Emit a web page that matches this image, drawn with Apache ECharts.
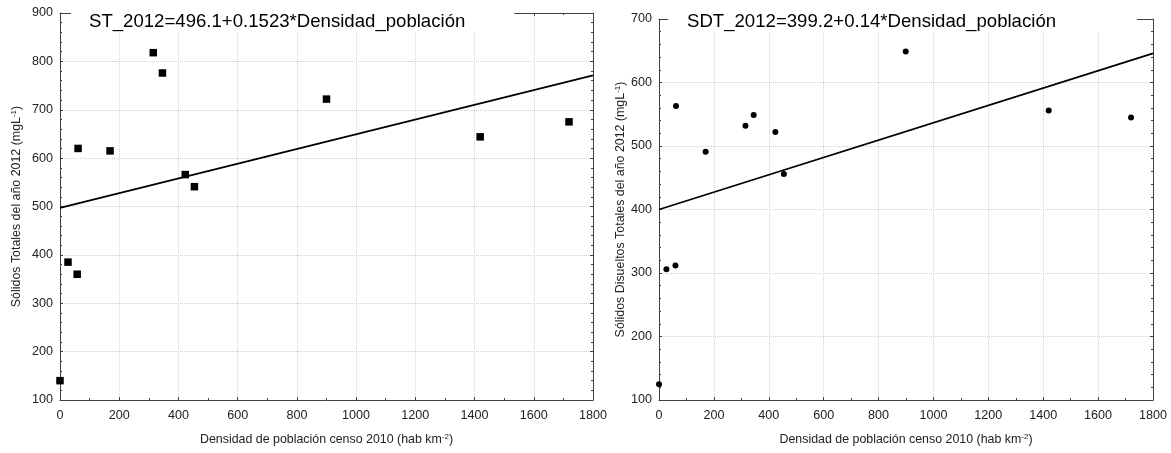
<!DOCTYPE html>
<html><head><meta charset="utf-8">
<script src="https://cdn.jsdelivr.net/npm/echarts@6/dist/echarts.min.js"></script>
<style>html,body{margin:0;padding:0;background:#fff}#c{width:1171px;height:453px}</style>
</head><body><div id="c"></div>
<script>
// Data
const densityST = [0, 27, 58, 61, 169, 315, 346, 423, 454, 900, 1419, 1719];
const valuesST  = [140, 385, 360, 620, 615, 818, 776, 566, 541, 722, 644, 675];
const densitySDT = [0, 27, 60, 62, 170, 315, 345, 424, 455, 899, 1420, 1720];
const valuesSDT  = [125, 306, 312, 563, 491, 532, 549, 522, 456, 649, 556, 545];
const fitST  = [[0, 497], [1800, 771]];
const fitSDT = [[0, 400], [1800, 646]];
const titleST  = 'ST_2012=496.1+0.1523*Densidad_población';
const titleSDT = 'SDT_2012=399.2+0.14*Densidad_población';
const xName = '{n|Densidad de población censo 2010 (hab km}{s|-2}{n|)}';
const yNameST  = '{n|Sólidos Totales del año 2012 (mgL}{s|-1}{n|)}';
const yNameSDT = '{n|Sólidos Disueltos Totales del año 2012 (mgL}{s|-1}{n|)}';

const FONT = "'Liberation Sans', Arial, sans-serif";
const pairs = (xs, ys) => xs.map((x, i) => [x, ys[i]]);
const rich = {
  n: {fontSize: 12.4, fontFamily: FONT, color: '#222'},
  s: {fontSize: 8, fontFamily: FONT, color: '#222', padding: [0, 0, 6, 0]}
};
const lineCol = '#404040';
const fmt = v => String(v);
function xAx(gi, main) {
  return {
    type: 'value', gridIndex: gi, min: 0, max: 1800, interval: 200,
    position: main ? 'bottom' : 'top',
    axisLine: {show: true, onZero: false, lineStyle: {color: lineCol, width: 1}},
    axisTick: {show: true, inside: true, length: 3, lineStyle: {color: lineCol}},
    minorTick: {show: true, splitNumber: 2, length: 2, lineStyle: {color: lineCol}},
    axisLabel: {show: main, margin: 9, fontSize: 12.6, fontFamily: FONT, color: '#222', formatter: fmt},
    splitLine: {show: main, lineStyle: {color: '#d2d2d2', type: [1, 1], width: 1}},
    name: main ? xName : '', nameLocation: 'middle', nameGap: 33,
    nameTextStyle: {rich: rich}
  };
}
function yAx(gi, main, min, max, name, gap) {
  return {
    type: 'value', gridIndex: gi, min: min, max: max, interval: 100,
    position: main ? 'left' : 'right',
    axisLine: {show: true, onZero: false, lineStyle: {color: lineCol, width: 1}},
    axisTick: {show: true, inside: true, length: 3, lineStyle: {color: lineCol}},
    minorTick: {show: true, splitNumber: 5, length: 2, lineStyle: {color: lineCol}},
    axisLabel: {show: main, margin: 7, fontSize: 12.6, fontFamily: FONT, color: '#222', formatter: fmt},
    splitLine: {show: main, lineStyle: {color: '#d2d2d2', type: [1, 1], width: 1}},
    name: main ? name : '', nameLocation: 'middle', nameGap: gap,
    nameTextStyle: {rich: rich}
  };
}
const titleStyle = {fontSize: 18.6, fontWeight: 'normal', color: '#000', fontFamily: FONT};
const option = {
  animation: false,
  backgroundColor: '#fff',
  title: [
    {text: titleST, left: 71, top: 10, padding: [2, 49, 2, 18], backgroundColor: '#fff', textStyle: titleStyle},
    {text: titleSDT, left: 668, top: 10, padding: [2, 81, 2, 19], backgroundColor: '#fff', textStyle: titleStyle}
  ],
  grid: [
    {left: 60, top: 13, width: 533, height: 387, containLabel: false, outerBoundsMode: 'none'},
    {left: 659, top: 19, width: 494, height: 381, containLabel: false, outerBoundsMode: 'none'}
  ],
  xAxis: [xAx(0, true), xAx(0, false), xAx(1, true), xAx(1, false)],
  yAxis: [yAx(0, true, 100, 900, yNameST, 36), yAx(0, false, 100, 900, '', 0),
          yAx(1, true, 100, 700, yNameSDT, 31), yAx(1, false, 100, 700, '', 0)],
  series: [
    {type: 'line', xAxisIndex: 0, yAxisIndex: 0, data: fitST, showSymbol: false, symbol: 'none',
     lineStyle: {color: '#000', width: 1.8}},
    {type: 'scatter', xAxisIndex: 0, yAxisIndex: 0, data: pairs(densityST, valuesST),
     symbol: 'rect', symbolSize: 7.5, itemStyle: {color: '#000', opacity: 1}},
    {type: 'line', xAxisIndex: 2, yAxisIndex: 2, data: fitSDT, showSymbol: false, symbol: 'none',
     lineStyle: {color: '#000', width: 1.8}},
    {type: 'scatter', xAxisIndex: 2, yAxisIndex: 2, data: pairs(densitySDT, valuesSDT),
     symbol: 'circle', symbolSize: 6, itemStyle: {color: '#000', opacity: 1}}
  ]
};
echarts.init(document.getElementById('c'), null, {renderer: 'canvas'}).setOption(option);
</script></body></html>
